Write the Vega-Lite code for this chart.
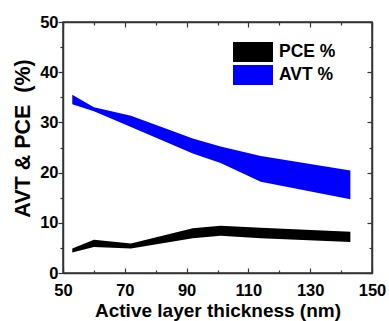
{
  "$schema": "https://vega.github.io/schema/vega-lite/v6.json",
  "width": 309,
  "height": 251,
  "autosize": {"type": "none"},
  "padding": {"left": 63, "top": 22, "right": 17, "bottom": 48},
  "background": "white",
  "config": {
    "font": "Liberation Sans",
    "view": {"stroke": "#333", "strokeWidth": 1.5},
    "axis": {"grid": false, "domainColor": "#333", "tickColor": "#333", "labelFontWeight": "bold", "labelFontSize": 16.5, "labelColor": "black", "titleColor": "black", "titleFontWeight": "bold", "domainWidth": 1.5, "tickWidth": 1.2}
  },
  "data": {"values": [
    {"x": 53, "series": "PCE %", "lo": 4.1, "hi": 4.9},
    {"x": 60, "series": "PCE %", "lo": 5.2, "hi": 6.6},
    {"x": 72, "series": "PCE %", "lo": 4.9, "hi": 5.9},
    {"x": 92, "series": "PCE %", "lo": 6.9, "hi": 8.9},
    {"x": 101, "series": "PCE %", "lo": 7.4, "hi": 9.4},
    {"x": 114, "series": "PCE %", "lo": 6.9, "hi": 9.0},
    {"x": 143, "series": "PCE %", "lo": 6.2, "hi": 8.2},
    {"x": 53, "series": "AVT %", "lo": 33.6, "hi": 35.5},
    {"x": 60, "series": "AVT %", "lo": 32.2, "hi": 33.0},
    {"x": 72, "series": "AVT %", "lo": 29.1, "hi": 31.3},
    {"x": 92, "series": "AVT %", "lo": 23.8, "hi": 26.8},
    {"x": 101, "series": "AVT %", "lo": 21.9, "hi": 25.2},
    {"x": 114, "series": "AVT %", "lo": 18.2, "hi": 23.3},
    {"x": 143, "series": "AVT %", "lo": 14.7, "hi": 20.4}
  ]},
  "layer": [
    {
      "mark": {"type": "area", "opacity": 1},
      "encoding": {
        "x": {"field": "x", "type": "quantitative", "scale": {"domain": [50, 150], "nice": false},
          "axis": {"values": [50, 60, 70, 80, 90, 100, 110, 120, 130, 140, 150], "labelExpr": "datum.value % 20 == 10 ? datum.label : ''", "tickSize": {"condition": {"test": "datum.value % 20 == 10", "value": -5}, "value": -3}, "labelPadding": 14, "title": "Active layer thickness (nm)", "titleFontSize": 19, "titlePadding": 3, "labelFlush": false}},
        "y": {"field": "lo", "type": "quantitative", "scale": {"domain": [0, 50], "nice": false},
          "axis": {"values": [0, 5, 10, 15, 20, 25, 30, 35, 40, 45, 50], "labelExpr": "datum.value % 10 == 0 ? datum.label : ''", "tickSize": {"condition": {"test": "datum.value % 10 == 0", "value": 5}, "value": 3}, "labelPadding": 0, "title": "AVT & PCE\u00a0\u00a0(%)", "titleFontSize": 21.5, "titlePadding": 5, "titleY": 116, "labelFlush": false}},
        "y2": {"field": "hi"},
        "color": {"field": "series", "type": "nominal",
          "scale": {"domain": ["PCE %", "AVT %"], "range": ["black", "#0000ff"]},
          "legend": {"title": null, "orient": "none", "legendX": 180, "legendY": 20, "symbolType": "M-2,-1H2V1H-2Z", "symbolSize": 400, "symbolStrokeWidth": 0, "symbolOpacity": 1, "labelFontSize": 17.5, "labelFontWeight": "bold", "labelColor": "black", "labelOffset": 16, "rowPadding": 3}}
      }
    },
    {
      "mark": {"type": "point", "opacity": 0},
      "encoding": {
        "x": {"field": "x", "type": "quantitative", "scale": {"domain": [50, 150], "nice": false},
          "axis": {"orient": "top", "values": [50, 60, 70, 80, 90, 100, 110, 120, 130, 140, 150], "labels": false, "title": null, "tickSize": {"condition": {"test": "datum.value % 20 == 10", "value": -5}, "value": -3}}},
        "y": {"field": "lo", "type": "quantitative", "scale": {"domain": [0, 50], "nice": false},
          "axis": {"orient": "right", "values": [0, 5, 10, 15, 20, 25, 30, 35, 40, 45, 50], "labels": false, "title": null, "tickSize": {"condition": {"test": "datum.value % 10 == 0", "value": -5}, "value": -3}}}
      }
    }
  ],
  "resolve": {"axis": {"x": "independent", "y": "independent"}}
}
